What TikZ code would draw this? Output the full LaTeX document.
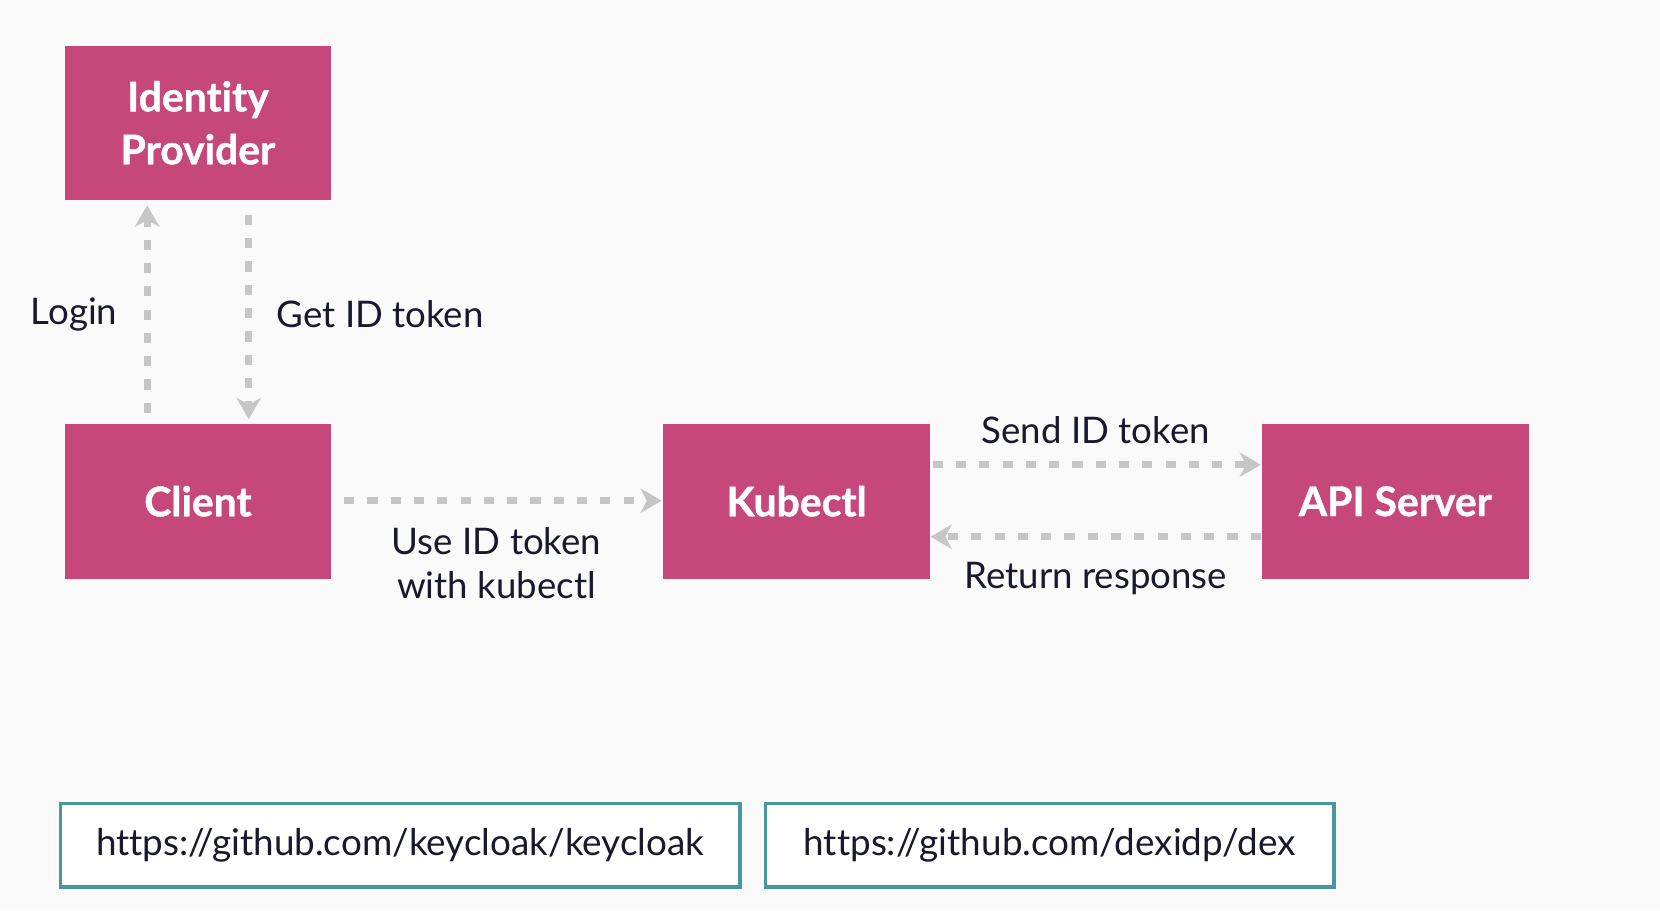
\documentclass[tikz,border=0pt]{standalone}
\usepackage{fontspec}
\setmainfont{Lato}[Ligatures=NoCommon]
\newfontfamily\boxfont[Ligatures=NoCommon,BoldFeatures={FakeBold=0.9}]{Lato}
\usetikzlibrary{arrows.meta}
\definecolor{boxpink}{RGB}{198,72,122}
\definecolor{arrowgray}{RGB}{198,198,198}
\definecolor{teal}{RGB}{74,150,158}
\definecolor{txt}{RGB}{25,25,45}
\definecolor{bg}{RGB}{250,250,250}
\tikzset{
  pinkbox/.style={fill=boxpink, draw=none, minimum width=126pt, minimum height=73pt,
    text=white, font=\boxfont\fontsize{19.3}{25}\selectfont\bfseries, align=center, inner sep=0pt},
  urlbox/.style={draw=teal, line width=1.7pt, fill=white, minimum height=39.5pt,
    text=txt, font=\fontsize{17.4}{20}\selectfont, inner sep=0pt},
  lbl/.style={text=txt, font=\fontsize{17.3}{21}\selectfont, align=center, inner sep=0pt},
  flow/.style={draw=arrowgray, line width=3.2pt, dash pattern=on 4.8pt off 6.2pt,
    -{Stealth[length=10pt,width=11.5pt,inset=3pt]}},
}
\begin{document}
\begin{tikzpicture}[x=0.5pt,y=-0.5pt]
\fill[bg] (0,0) rectangle (1568,860);
\useasboundingbox (0,0) rectangle (1568,860);
\node[pinkbox] (idp) at (187,116) {Identity\\Provider};
\node[pinkbox] (client) at (187,473.5) {Client};
\node[pinkbox] (kubectl) at (752.5,473.5) {Kubectl};
\node[pinkbox] (api) at (1318,473.5) {API Server};

\coordinate (loginS) at (139,390);
\coordinate (loginE) at (139,194);
\coordinate (getS) at (235,203);
\coordinate (getE) at (235,396);
\draw[flow] (loginS) -- (loginE);
\draw[flow] (getS) -- (getE);
\node[lbl] (login) at (70,297) {Login};
\node[lbl, anchor=west] (getlbl) at (261,297) {Get ID token};

\coordinate (useS) at (325,473);
\coordinate (useE) at (625,473);
\draw[flow] (useS) -- (useE);
\node[lbl] (uselbl) at (469,532) {Use ID token\\with kubectl};

\coordinate (sendS) at (881,439);
\coordinate (sendE) at (1191,439);
\draw[flow] (sendS) -- (sendE);
\node[lbl] (sendlbl) at (1035,406) {Send ID token};

\coordinate (retS) at (1191,507);
\coordinate (retE) at (879,507);
\draw[flow] (retS) -- (retE);
\node[lbl] (retlbl) at (1035,546) {Return response};

\node[urlbox, minimum width=321pt] (url1) at (378,798.5) {https://github.com/keycloak/keycloak};
\node[urlbox, minimum width=268.5pt] (url2) at (991.5,798.5) {https://github.com/dexidp/dex};
\end{tikzpicture}
\end{document}
